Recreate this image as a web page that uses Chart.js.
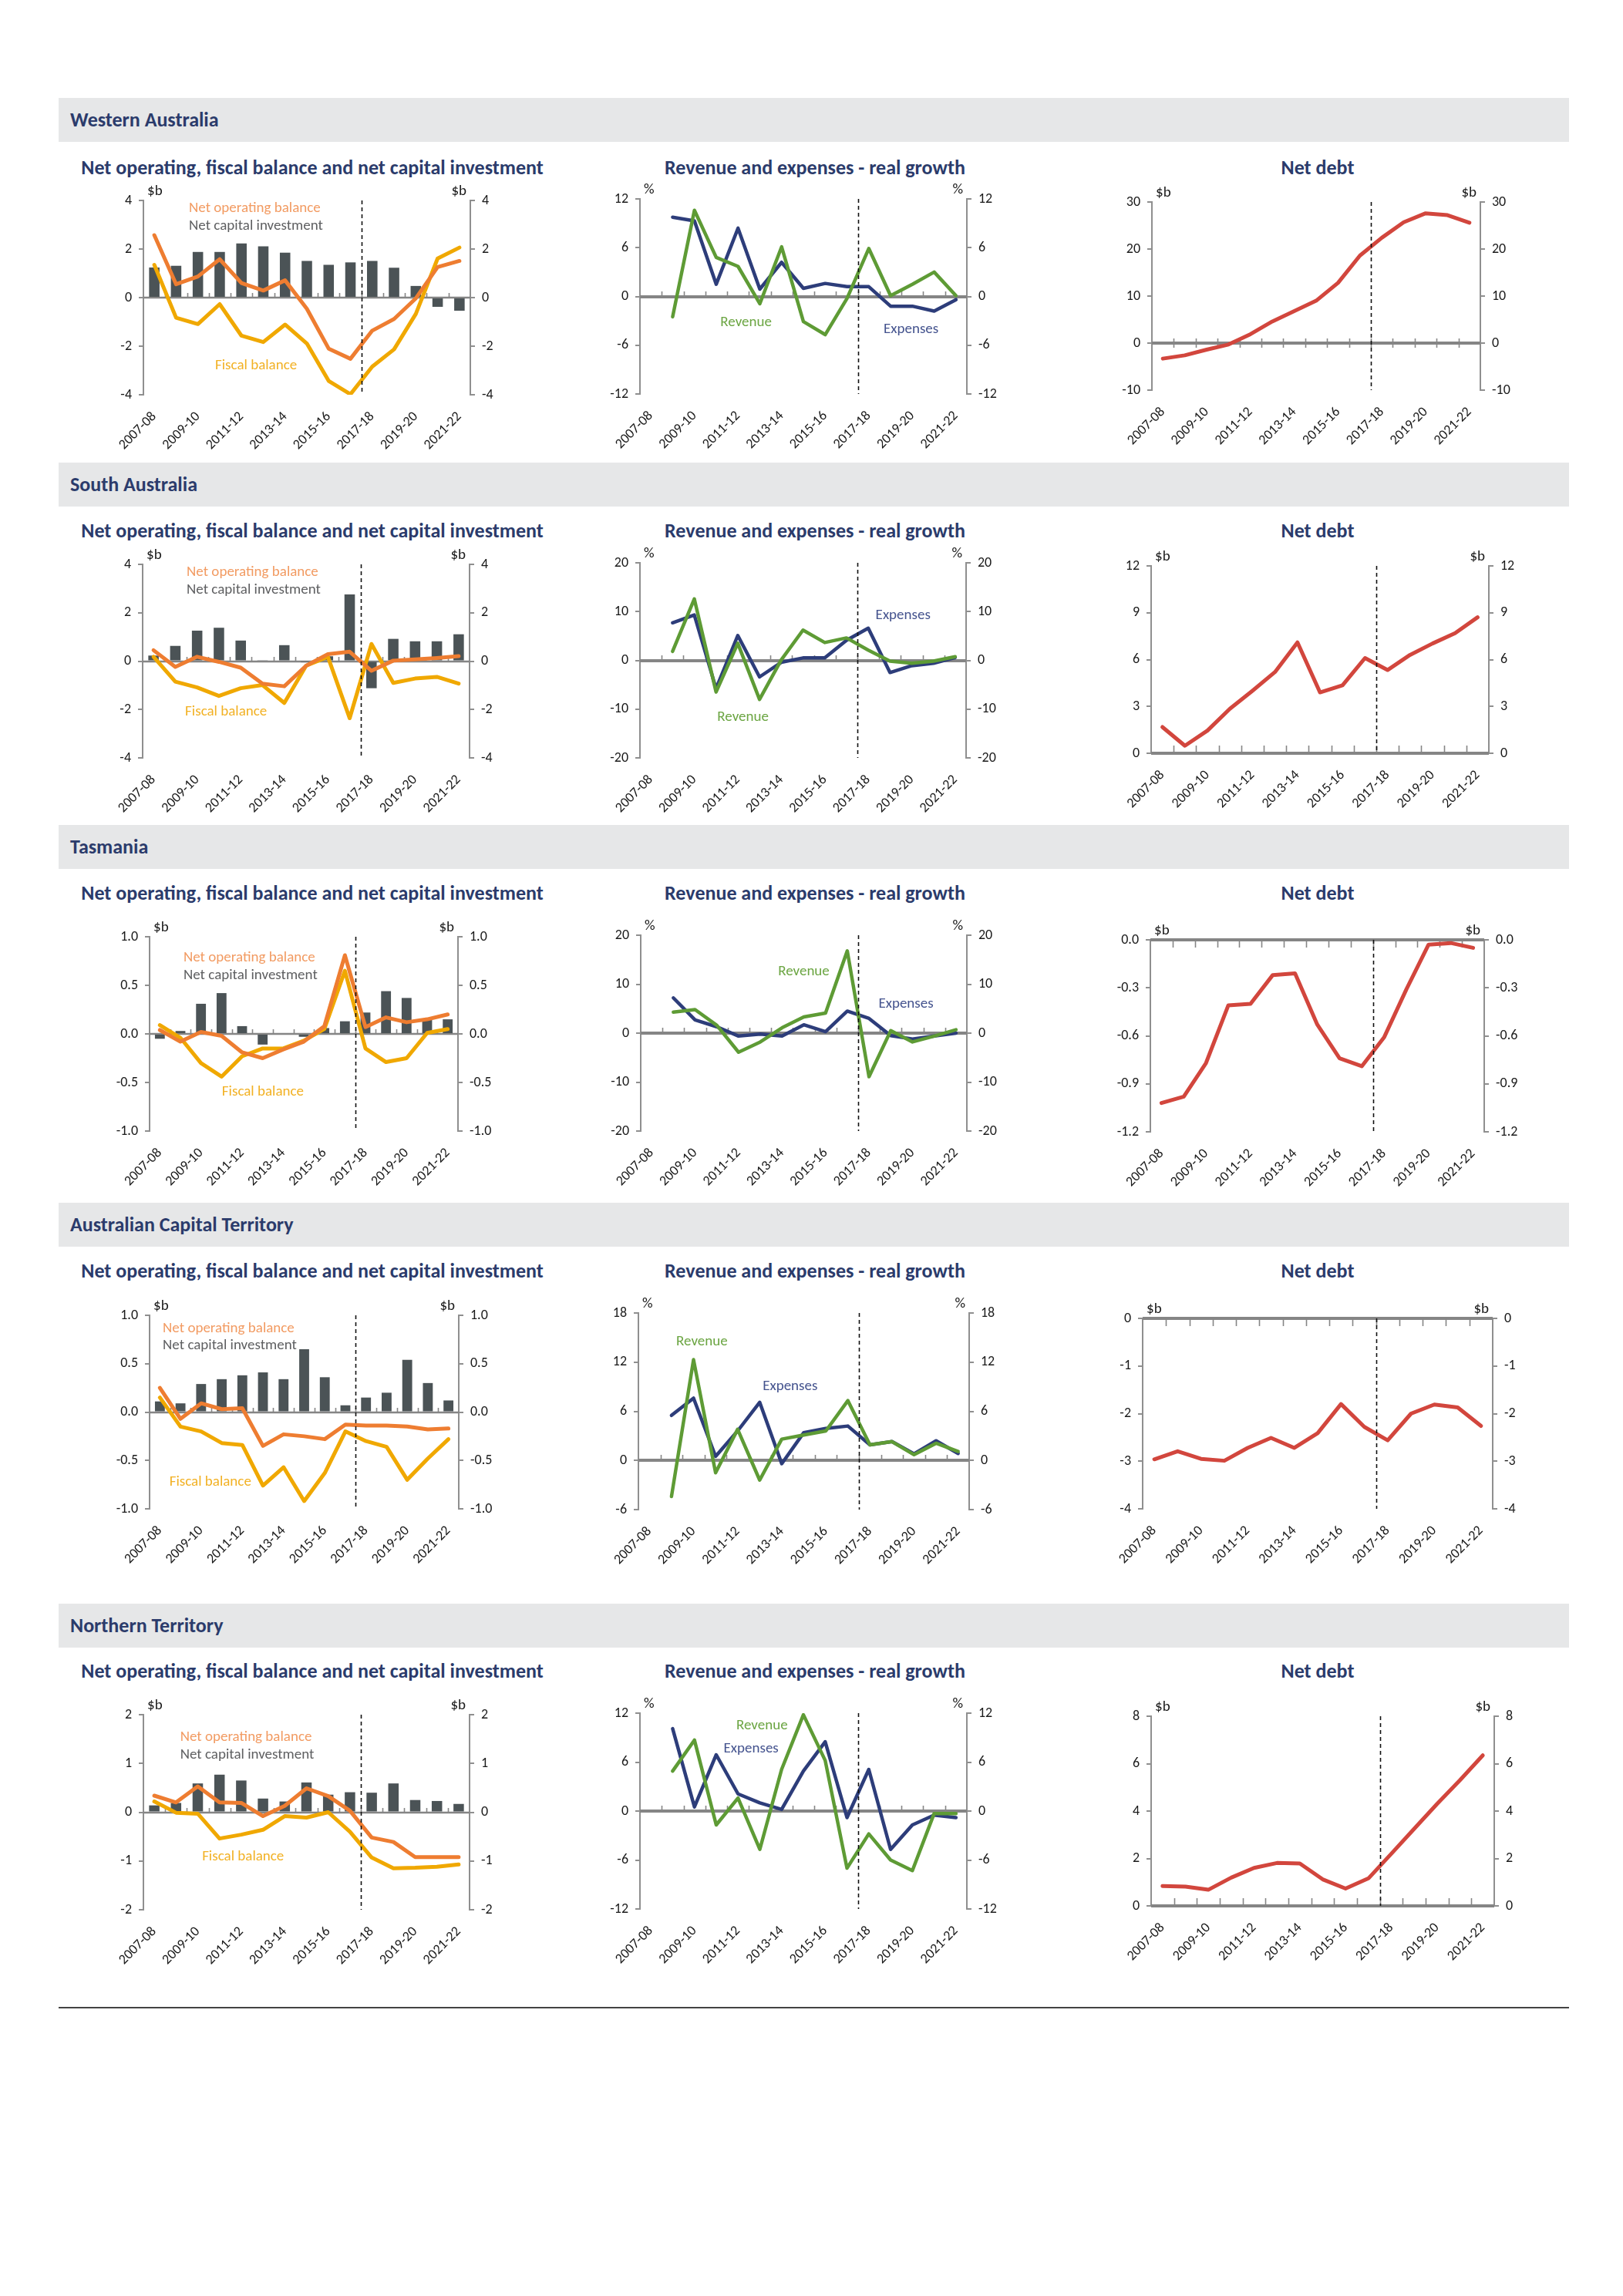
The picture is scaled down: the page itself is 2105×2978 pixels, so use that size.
<!DOCTYPE html>
<html><head><meta charset="utf-8">
<script src="https://cdn.jsdelivr.net/npm/chart.js@4.4.0/dist/chart.umd.min.js"></script>
<style>
body{margin:0;background:#fff;width:2105px;height:2978px;position:relative;overflow:hidden;font-family:Carlito,Lato,"Open Sans",sans-serif;}
.hdr{position:absolute;left:76px;width:1959px;height:57px;background:#E6E7E8;}
.hdr span{position:absolute;left:15px;top:50%;transform:translateY(-52%);font-weight:700;font-size:26px;color:#2B3B6B;}
.ttl{position:absolute;font-weight:700;font-size:26px;color:#2B3B6B;white-space:nowrap;transform:translate(-50%,-50%);}
canvas{position:absolute;}
.rule{position:absolute;left:76px;width:1959px;top:2603px;height:2px;background:#444;}
</style></head><body>
<script>
const years = ['2007-08','2008-09','2009-10','2010-11','2011-12','2012-13','2013-14','2014-15','2015-16','2016-17','2017-18','2018-19','2019-20','2020-21','2021-22'];

// Western Australia
const waNetCapital   = [1.24,1.31,1.88,1.88,2.23,2.11,1.85,1.51,1.35,1.45,1.51,1.23,0.48,-0.38,-0.54];
const waNetOperating = [2.57,0.55,0.87,1.58,0.60,0.29,0.71,-0.46,-2.10,-2.52,-1.36,-0.88,-0.03,1.26,1.51];
const waFiscal       = [1.35,-0.83,-1.09,-0.27,-1.57,-1.83,-1.11,-1.89,-3.43,-3.98,-2.84,-2.13,-0.67,1.61,2.06];
const waRevenue      = [null,-2.5,10.6,4.8,3.7,-0.9,6.1,-3.1,-4.7,-0.25,5.9,0.1,1.5,3.0,0.1];
const waExpenses     = [null,9.75,9.3,1.5,8.4,0.9,4.2,1.0,1.6,1.2,1.2,-1.2,-1.2,-1.8,-0.4];
const waNetDebt      = [-3.3,-2.6,-1.4,-0.3,1.9,4.6,6.8,9.0,12.8,18.6,22.4,25.7,27.6,27.2,25.6];

// South Australia
const saNetCapital   = [0.23,0.63,1.26,1.38,0.85,0.04,0.66,-0.05,0.2,2.76,-1.12,0.92,0.82,0.82,1.11];
const saNetOperating = [0.45,-0.24,0.18,-0.03,-0.27,-0.93,-1.04,-0.19,0.29,0.39,-0.40,0.02,0.07,0.13,0.21];
const saFiscal       = [0.18,-0.85,-1.09,-1.44,-1.12,-0.99,-1.73,-0.19,0.18,-2.36,0.71,-0.90,-0.72,-0.65,-0.93];
const saRevenue      = [null,1.85,12.6,-6.5,3.5,-8.0,0.1,6.2,3.65,4.6,2.1,-0.16,-0.58,-0.16,0.74];
const saExpenses     = [null,7.7,9.3,-5.8,5.1,-3.4,-0.4,0.5,0.5,4.1,6.6,-2.5,-1.1,-0.6,0.6];
const saNetDebt      = [1.68,0.48,1.45,2.85,4.0,5.2,7.1,3.9,4.35,6.1,5.33,6.3,7.03,7.69,8.71];

// Tasmania
const tasNetCapital   = [-0.05,0.03,0.31,0.42,0.08,-0.11,0.0,-0.03,0.06,0.13,0.22,0.44,0.37,0.15,0.15];
const tasNetOperating = [0.04,-0.08,0.02,-0.02,-0.19,-0.25,-0.16,-0.08,0.08,0.81,0.07,0.17,0.12,0.15,0.20];
const tasFiscal       = [0.09,-0.04,-0.30,-0.44,-0.23,-0.15,-0.15,-0.07,0.05,0.65,-0.15,-0.29,-0.25,0.01,0.05];
const tasRevenue      = [null,4.3,4.8,1.6,-3.9,-1.8,1.1,3.3,4.1,16.8,-8.9,0.5,-1.8,-0.6,0.7];
const tasExpenses     = [null,7.2,2.7,1.3,-0.6,-0.2,-0.6,1.7,0.3,4.5,3.0,-0.5,-1.2,-0.6,0.0];
const tasNetDebt      = [-1.02,-0.98,-0.77,-0.41,-0.40,-0.22,-0.21,-0.53,-0.74,-0.79,-0.61,-0.31,-0.03,-0.02,-0.05];

// Australian Capital Territory
const actNetCapital   = [0.11,0.09,0.29,0.34,0.38,0.41,0.34,0.65,0.36,0.07,0.15,0.20,0.54,0.30,0.12];
const actNetOperating = [0.25,-0.07,0.09,0.03,0.04,-0.35,-0.23,-0.25,-0.28,-0.13,-0.14,-0.14,-0.15,-0.18,-0.17];
const actFiscal       = [0.15,-0.15,-0.20,-0.32,-0.34,-0.76,-0.57,-0.92,-0.63,-0.20,-0.30,-0.36,-0.70,-0.48,-0.28];
const actRevenue      = [null,-4.4,12.3,-1.5,3.8,-2.4,2.6,3.1,3.6,7.3,1.9,2.3,0.7,2.1,1.1];
const actExpenses     = [null,5.5,7.6,0.5,3.6,7.1,-0.4,3.4,3.9,4.2,1.9,2.3,0.8,2.4,0.85];
const actNetDebt      = [-2.96,-2.79,-2.95,-2.99,-2.72,-2.51,-2.72,-2.41,-1.80,-2.28,-2.56,-2.00,-1.81,-1.87,-2.26];

// Northern Territory
const ntNetCapital   = [0.14,0.19,0.59,0.77,0.65,0.28,0.22,0.61,0.36,0.41,0.40,0.59,0.25,0.23,0.17];
const ntNetOperating = [0.34,0.20,0.53,0.20,0.19,-0.08,0.13,0.49,0.33,0.03,-0.52,-0.61,-0.92,-0.92,-0.92];
const ntFiscal       = [0.22,-0.01,-0.03,-0.54,-0.46,-0.36,-0.08,-0.11,0.0,-0.40,-0.93,-1.15,-1.14,-1.12,-1.07];
const ntRevenue      = [null,4.9,8.7,-1.7,1.6,-4.7,5.1,11.8,6.2,-7.0,-2.8,-6.0,-7.3,-0.3,-0.3];
const ntExpenses     = [null,10.1,0.5,6.9,2.1,1.0,0.2,4.9,8.5,-0.8,5.1,-4.7,-1.7,-0.5,-0.8];
const ntNetDebt      = [0.84,0.81,0.68,1.19,1.60,1.81,1.79,1.12,0.73,1.16,2.2,3.25,4.3,5.3,6.35];

// ---------- styling / layout ----------
const FONT = 'Carlito, Lato, "Open Sans", sans-serif';
Chart.defaults.font.family = FONT;
Chart.defaults.font.size = 18;
Chart.defaults.color = '#1a1a1a';
const AXIS = '#8f8f8f', ZERO = '#858585';
const C_BAR = '#4B5356', C_NOB = '#EE7D31', C_FB = '#F0A800', C_REV = '#5E9B35', C_EXP = '#2D3D7A', C_DEBT = '#D2463D';
const L_NOB = '#F29B62', L_NCI = '#5E5F61', L_FB = '#F2B124', L_REV = '#6BA542', L_EXP = '#44538E';
const PADL = 70, PADT = 40, PADB = 110;

const decor = {
  id: 'decor',
  beforeDatasetsDraw(chart, args, o) {
    const {ctx, chartArea: a, scales: {x, y}} = chart;
    const y0 = Math.round(y.getPixelForValue(0));
    ctx.save();
    ctx.strokeStyle = ZERO;
    ctx.lineWidth = o.zeroWidth;
    ctx.beginPath(); ctx.moveTo(a.left, y0); ctx.lineTo(a.right, y0); ctx.stroke();
    ctx.lineWidth = 1.6;
    for (let i = 1; i < years.length; i++) {
      const px = Math.round((x.getPixelForValue(i - 1) + x.getPixelForValue(i)) / 2) + 0.5;
      ctx.beginPath(); ctx.moveTo(px, y0 - o.up); ctx.lineTo(px, y0 + o.down); ctx.stroke();
    }
    ctx.restore();
  },
  afterDatasetsDraw(chart, args, o) {
    const {ctx, chartArea: a, scales: {x, y}} = chart;
    ctx.save();
    const dx = Math.round((x.getPixelForValue(9) + x.getPixelForValue(10)) / 2) + 0.5;
    ctx.strokeStyle = '#111'; ctx.lineWidth = 1.6; ctx.setLineDash([5, 4]);
    ctx.beginPath(); ctx.moveTo(dx, a.top); ctx.lineTo(dx, a.bottom); ctx.stroke();
    ctx.setLineDash([]);
    ctx.font = '19px ' + FONT; ctx.textBaseline = 'middle';
    (o.notes || []).forEach(n => {
      ctx.fillStyle = n.c; ctx.textAlign = n.align || 'left';
      ctx.fillText(n.t, x.getPixelForValue(n.x), y.getPixelForValue(n.y));
    });
    ctx.font = '19px ' + FONT; ctx.fillStyle = '#1a1a1a';
    ctx.textAlign = 'left'; ctx.fillText(o.unit, a.left + 5, a.top - 12);
    ctx.textAlign = 'right'; ctx.fillText(o.unit, a.right - 5, a.top - 12);
    ctx.restore();
  }
};
Chart.register(decor);

function fmt(v, dec) { if (Math.abs(v) < 1e-9) v = 0; return v.toFixed(dec); }

function yAxis(pos, r) {
  return {
    position: pos, min: r[0], max: r[1],
    ticks: {stepSize: r[2], padding: 9, callback: v => fmt(v, r[3] || 0)},
    grid: {drawOnChartArea: false, drawTicks: true, tickLength: 6, color: AXIS, lineWidth: 2},
    border: {display: true, color: AXIS, width: 2},
    afterFit: s => { s.width = PADL; }
  };
}
function xAxis() {
  return {
    type: 'category', offset: true,
    grid: {display: false}, border: {display: false},
    ticks: {autoSkip: false, minRotation: 45, maxRotation: 45, padding: 10,
            callback: (v, i) => (i % 2 === 0 ? years[i] : '')},
    afterFit: s => { s.height = PADB; }
  };
}

function makeCanvas(p) {
  const [l, t, r, b] = p;
  const w = r - l + 2 * PADL, h = b - t + PADT + PADB;
  const c = document.createElement('canvas');
  c.width = w; c.height = h;
  c.style.left = (l - PADL) + 'px'; c.style.top = (t - PADT) + 'px';
  c.style.width = w + 'px'; c.style.height = h + 'px';
  document.body.appendChild(c);
  return c;
}

function draw(p, type, datasets, range, deco) {
  new Chart(makeCanvas(p), {
    type: type,
    data: {labels: years, datasets: datasets},
    options: {
      responsive: false, animation: false,
      layout: {padding: {top: PADT, left: 0, right: 0, bottom: 0}},
      plugins: {legend: {display: false}, tooltip: {enabled: false}, decor: deco},
      scales: {x: xAxis(), y: yAxis('left', range), y2: yAxis('right', range)}
    }
  });
}

function lineDs(data, color, w, order) {
  return {type: 'line', data: data, borderColor: color, backgroundColor: color, borderWidth: w,
          pointRadius: 0, tension: 0, order: order, borderJoinStyle: 'round', borderCapStyle: 'round'};
}

function fiscalChart(p, nci, nob, fb, range, notes) {
  draw(p, 'bar', [
    lineDs(nob, C_NOB, 5, 1),
    lineDs(fb, C_FB, 5, 2),
    {type: 'bar', data: nci, backgroundColor: C_BAR, barPercentage: 0.48, categoryPercentage: 1, order: 3}
  ], range, {zeroWidth: 2.5, up: 6, down: 0, unit: '$b', notes: [
    {t: 'Net operating balance', x: notes[0], y: notes[1], c: L_NOB},
    {t: 'Net capital investment', x: notes[0], y: notes[2], c: L_NCI},
    {t: 'Fiscal balance', x: notes[3], y: notes[4], c: L_FB}
  ]});
}
function growthChart(p, rev, exp, range, notes) {
  draw(p, 'line', [
    lineDs(rev, C_REV, 4.5, 1),
    lineDs(exp, C_EXP, 4.5, 2)
  ], range, {zeroWidth: 4, up: 7, down: 0, unit: '%', notes: [
    {t: 'Revenue', x: notes[0], y: notes[1], c: L_REV, align: 'center'},
    {t: 'Expenses', x: notes[2], y: notes[3], c: L_EXP, align: 'center'}
  ]});
}
function debtChart(p, debt, range, up, down) {
  draw(p, 'line', [lineDs(debt, C_DEBT, 5, 1)], range,
       {zeroWidth: 4, up: up, down: down, unit: '$b', notes: []});
}

function header(top, text) {
  const d = document.createElement('div'); d.className = 'hdr'; d.style.top = top + 'px';
  const s = document.createElement('span'); s.textContent = text; d.appendChild(s);
  document.body.appendChild(d);
}
function title(x, y, text) {
  const d = document.createElement('div'); d.className = 'ttl';
  d.style.left = x + 'px'; d.style.top = y + 'px'; d.textContent = text;
  document.body.appendChild(d);
}
function rowTitles(y) {
  title(405, y, 'Net operating, fiscal balance and net capital investment');
  title(1057, y, 'Revenue and expenses - real growth');
  title(1709, y, 'Net debt');
}

// Western Australia
header(127, 'Western Australia'); rowTitles(217);
fiscalChart([186, 260, 610, 512], waNetCapital, waNetOperating, waFiscal, [-4, 4, 2, 0], [1.59, 3.68, 2.94, 2.79, -2.81]);
growthChart([830, 258, 1254, 511], waRevenue, waExpenses, [-12, 12, 6, 0], [4.37, -3.2, 11.94, -4.06]);
debtChart([1494, 262, 1920, 506], waNetDebt, [-10, 30, 10, 0], 6, 6);

// South Australia
header(600, 'South Australia'); rowTitles(688);
fiscalChart([185, 732, 609, 983], saNetCapital, saNetOperating, saFiscal, [-4, 4, 2, 0], [1.52, 3.66, 2.94, 1.45, -2.1]);
growthChart([830, 730, 1253, 983], saRevenue, saExpenses, [-20, 20, 10, 0], [4.24, -11.7, 11.6, 9.2]);
debtChart([1493, 734, 1931, 977], saNetDebt, [0, 12, 3, 0], 10, 0);

// Tasmania
header(1070, 'Tasmania'); rowTitles(1158);
fiscalChart([194, 1215, 594, 1467], tasNetCapital, tasNetOperating, tasFiscal, [-1, 1, 0.5, 1], [1.15, 0.78, 0.60, 3.02, -0.60]);
growthChart([831, 1213, 1254, 1467], tasRevenue, tasExpenses, [-20, 20, 10, 0], [7.0, 12.5, 11.7, 5.9]);
debtChart([1492, 1219, 1925, 1468], tasNetDebt, [-1.2, 0, 0.3, 1], 0, 10);

// Australian Capital Territory
header(1560, 'Australian Capital Territory'); rowTitles(1648);
fiscalChart([194, 1706, 595, 1957], actNetCapital, actNetOperating, actFiscal, [-1, 1, 0.5, 1], [0.14, 0.86, 0.69, 0.46, -0.72]);
growthChart([828, 1703, 1257, 1958], actRevenue, actExpenses, [-6, 18, 6, 0], [2.38, 14.5, 6.38, 9.0]);
debtChart([1482, 1710, 1936, 1957], actNetDebt, [-4, 0, 1, 0], 0, 10);

// Northern Territory
header(2080, 'Northern Territory'); rowTitles(2167);
fiscalChart([186, 2224, 609, 2477], ntNetCapital, ntNetOperating, ntFiscal, [-2, 2, 1, 0], [1.19, 1.54, 1.17, 2.2, -0.92]);
growthChart([830, 2222, 1254, 2476], ntRevenue, ntExpenses, [-12, 12, 6, 0], [5.1, 10.5, 4.6, 7.6]);
debtChart([1493, 2226, 1938, 2472], ntNetDebt, [0, 8, 2, 0], 10, 0);

const rule = document.createElement('div'); rule.className = 'rule'; document.body.appendChild(rule);
</script>
</body></html>
